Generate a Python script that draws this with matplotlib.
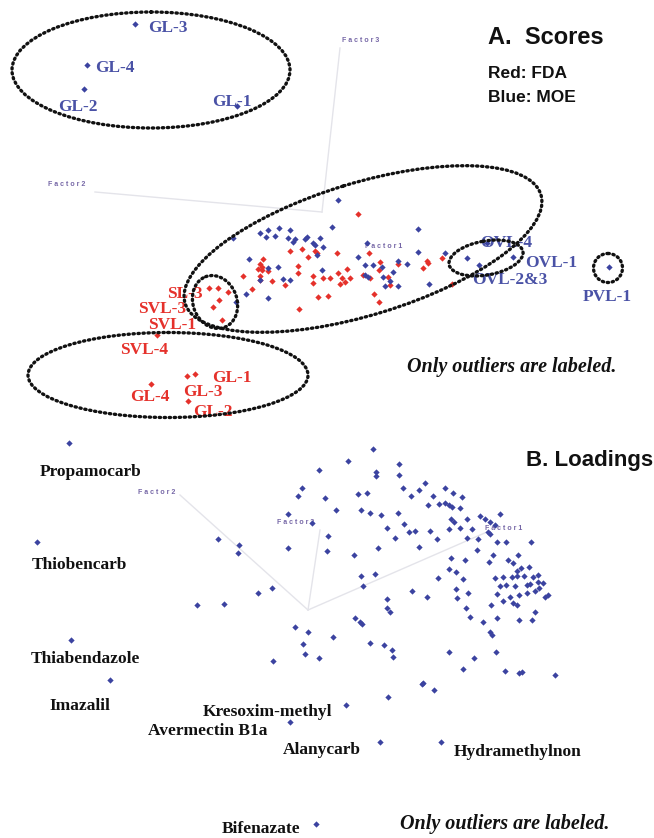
import numpy as np
import matplotlib
matplotlib.use("Agg")
from matplotlib import pyplot as plt
from matplotlib.patches import Ellipse

# --- data (projection-plane coordinates, image pixels) ---
# A. scores
fda_x = [263, 260, 258, 262, 243, 252, 260, 268, 262, 290, 302, 308, 315, 317, 337, 369,
         298, 298, 313, 313, 323, 330, 338, 342, 347, 350, 340, 345, 285, 272, 260, 363,
         370, 380, 379, 388, 390, 398, 427, 428, 423, 442, 452, 318, 328, 374, 379, 299,
         358, 209, 218, 228, 219, 213, 222, 157, 187, 195, 151, 188]
fda_y = [259, 264, 269, 270, 276, 289, 276, 271, 267, 251, 249, 257, 251, 253, 253, 253,
         266, 273, 276, 283, 278, 278, 273, 278, 269, 278, 284, 282, 285, 281, 280, 275,
         278, 262, 270, 277, 285, 264, 261, 263, 268, 258, 284, 297, 296, 294, 302, 309,
         214, 288, 288, 292, 300, 307, 320, 335, 376, 374, 384, 401]

moe_x = [135, 87, 84, 237,
         338, 332, 418, 260, 268, 279, 290, 266, 275, 288, 295, 305, 307, 320, 293, 313,
         323, 233, 317, 367, 249, 268, 278, 322, 358, 365, 382, 398, 407, 260, 283, 290,
         365, 383, 393, 390, 385, 398, 418, 445, 429, 246, 268, 236, 315, 373, 368,
         467, 479, 513, 487, 609]
moe_y = [24, 65, 89, 106,
         200, 227, 229, 233, 230, 228, 230, 237, 236, 238, 239, 239, 237, 238, 242, 243,
         247, 238, 255, 243, 259, 268, 267, 270, 257, 265, 267, 261, 264, 280, 279, 280,
         275, 277, 272, 281, 286, 286, 252, 253, 284, 294, 298, 302, 245, 265, 277,
         258, 265, 257, 243, 267]

fda_names = ["SL-3", "SVL-3", "SVL-1", "SVL-4", "GL-1", "GL-3", "GL-4", "GL-2"]
fda_lab_x = [167, 138, 148, 120, 212, 183, 130, 193]
fda_lab_y = [294, 309, 325, 350, 378, 392, 397, 412]

moe_names = ["GL-3", "GL-4", "GL-2", "GL-1", "OVL-4", "OVL-1", "OVL-2&3", "PVL-1"]
moe_lab_x = [148, 95, 58, 212, 480, 525, 472, 583]
moe_lab_y = [28, 68, 107, 102, 243, 263, 280, 297]

# B. loadings
load_x = [69, 37, 71, 110, 346, 290, 380, 441, 316,
          319, 302, 298, 325, 288, 312, 328, 218, 239, 238, 288, 327, 272, 258, 197, 224, 295,
          373, 348, 399, 376, 376, 399, 358, 367, 403, 419, 425, 411, 433, 445, 453, 462,
          428, 439, 445, 449, 452, 460, 336, 361, 370, 381, 398, 404, 387, 451, 454, 467,
          480, 485, 490, 495, 500, 409, 415, 430, 449, 460, 472, 488, 490, 395, 437, 467,
          478, 497, 506, 531, 378, 419, 477, 354, 493, 518, 451, 465, 489, 508, 513, 529,
          521, 517, 449, 456, 463, 438, 361, 375, 363, 412, 427, 456, 468, 457, 495, 503,
          512, 517, 524, 533, 538, 500, 506, 515, 527, 530, 538, 543, 497, 510, 519, 527,
          535, 539, 545, 548, 503, 513, 517, 491, 387, 387, 390, 466, 535, 308, 333, 355,
          360, 362, 470, 483, 497, 519, 532, 490, 492,
          303, 305, 319, 273, 370, 384, 392, 393, 449, 474, 496, 463, 505, 519, 522, 555,
          423, 434, 388, 422]
load_y = [443, 542, 640, 680, 705, 722, 742, 742, 824,
          470, 488, 496, 498, 514, 523, 536, 539, 545, 553, 548, 551, 588, 593, 605, 604, 627,
          449, 461, 464, 472, 476, 475, 494, 493, 488, 490, 483, 496, 496, 488, 493, 497,
          505, 504, 503, 505, 507, 508, 510, 510, 513, 515, 513, 524, 528, 519, 522, 519,
          516, 519, 522, 525, 514, 532, 531, 531, 529, 528, 529, 532, 534, 538, 539, 538,
          539, 542, 542, 542, 548, 547, 550, 555, 555, 555, 558, 560, 562, 560, 563, 567,
          568, 571, 569, 572, 579, 578, 576, 574, 586, 591, 597, 589, 593, 598, 578, 577,
          577, 576, 576, 577, 575, 586, 585, 586, 585, 584, 582, 583, 594, 597, 595, 593,
          591, 588, 597, 595, 601, 603, 605, 605, 599, 608, 612, 608, 612, 632, 637, 618,
          622, 624, 617, 622, 618, 620, 620, 632, 635,
          644, 654, 658, 661, 643, 645, 650, 657, 652, 658, 652, 669, 671, 673, 672, 675,
          683, 690, 697, 684]

load_names = ["Propamocarb", "Thiobencarb", "Thiabendazole", "Imazalil", "Kresoxim-methyl",
              "Avermectin B1a", "Alanycarb", "Hydramethylnon", "Bifenazate"]
load_lab_x = [40, 32, 31, 49, 203, 148, 283, 454, 222]
load_lab_y = [472, 565, 659, 706, 712, 731, 750, 752, 829]

RED = "#e5312b"
BLUE = "#3b43a0"
BLUE_TXT = "#4a52a6"
FACTOR_C = "#7566a6"
AXIS_C = "#e4e4ea"

fig = plt.figure(figsize=(6.54, 8.38), dpi=100)
ax = fig.add_axes([0, 0, 1, 1])
ax.set_xlim(0, 654)
ax.set_ylim(838, 0)
ax.axis("off")

serif = dict(family="Liberation Serif", fontweight="bold", fontsize=12.5)

# factor axes (faint lines)
ax.plot([322, 340], [212, 48], color=AXIS_C, lw=1, zorder=0)
ax.plot([322, 95], [212, 192], color=AXIS_C, lw=1, zorder=0)
ax.plot([308, 180], [610, 495], color=AXIS_C, lw=1, zorder=0)
ax.plot([308, 320], [610, 530], color=AXIS_C, lw=1, zorder=0)
ax.plot([308, 487], [610, 532], color=AXIS_C, lw=1, zorder=0)

fkw = dict(fontsize=5, color=FACTOR_C, family="Liberation Sans", fontweight="bold",
           va="center", ha="left")
ax.text(342, 41, "F a c t o r 3", **fkw)
ax.text(48, 185, "F a c t o r 2", **fkw)
ax.text(365, 246, "F a c t o r 1", **fkw)
ax.text(138, 492, "F a c t o r 2", **fkw)
ax.text(277, 522, "F a c t o r 3", **fkw)
ax.text(485, 528, "F a c t o r 1", **fkw)

# points
ax.plot(fda_x, fda_y, "D", color=RED, ms=3.2, mew=0, zorder=3)
ax.plot(moe_x, moe_y, "D", color=BLUE, ms=3.2, mew=0, zorder=3)
ax.plot(load_x, load_y, "D", color=BLUE, ms=3.2, mew=0, zorder=3)

# labels
for name, x, y in zip(fda_names, fda_lab_x, fda_lab_y):
    ax.text(x, y, name, color=RED, ha="left", va="center", zorder=4, **serif)
for name, x, y in zip(moe_names, moe_lab_x, moe_lab_y):
    ax.text(x, y, name, color=BLUE_TXT, ha="left", va="center", zorder=4, **serif)
for name, x, y in zip(load_names, load_lab_x, load_lab_y):
    ax.text(x, y, name, color="#111111", ha="left", va="center", zorder=4, **serif)

# dotted outlier circles
ekw = dict(fill=False, ec="#111111", lw=2.4, ls=(0, (0.4, 1.1)), capstyle="round", zorder=5)
ax.add_patch(Ellipse((151, 70), 278, 116, angle=0, **ekw))
ax.add_patch(Ellipse((363, 249), 372, 132, angle=-17, **ekw))
ax.add_patch(Ellipse((215, 302), 44, 54, angle=-20, **ekw))
ax.add_patch(Ellipse((486, 258), 75, 34, angle=-10, **ekw))
ax.add_patch(Ellipse((608, 268), 29, 29, angle=0, **ekw))
ax.add_patch(Ellipse((168, 375), 280, 85, angle=0, **ekw))

# titles and notes
ax.text(488, 37, "A.  Scores", family="Liberation Sans", fontweight="bold", fontsize=17,
        va="center", ha="left", color="#111111")
ax.text(488, 73, "Red: FDA", family="Liberation Sans", fontweight="bold", fontsize=12.5,
        va="center", ha="left", color="#111111")
ax.text(488, 97, "Blue: MOE", family="Liberation Sans", fontweight="bold", fontsize=12.5,
        va="center", ha="left", color="#111111")
ax.text(526, 460, "B. Loadings", family="Liberation Sans", fontweight="bold", fontsize=16,
        va="center", ha="left", color="#111111")
ax.text(407, 367, "Only outliers are labeled.", family="Liberation Serif", fontweight="bold",
        style="italic", fontsize=14.5, va="center", ha="left", color="#111111")
ax.text(400, 824, "Only outliers are labeled.", family="Liberation Serif", fontweight="bold",
        style="italic", fontsize=14.5, va="center", ha="left", color="#111111")

fig.savefig("out.png", dpi=100)
